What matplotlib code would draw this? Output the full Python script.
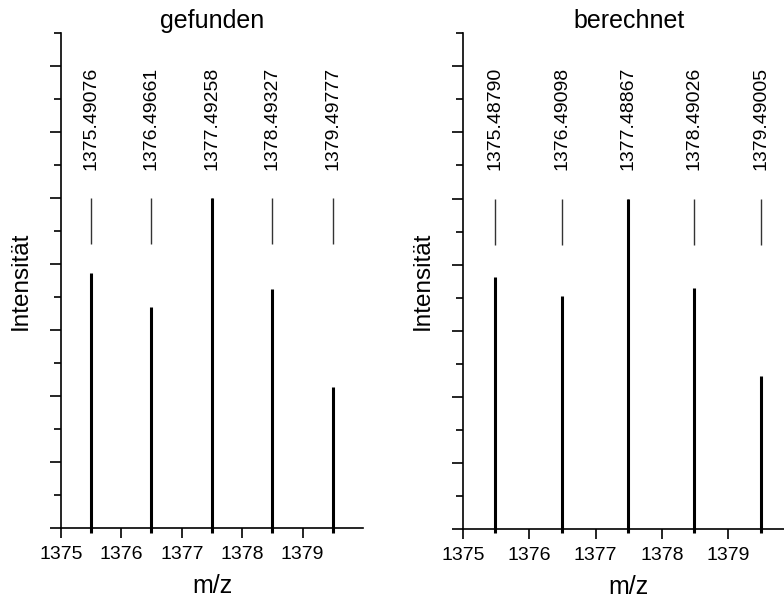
import matplotlib
matplotlib.use("Agg")
import matplotlib.pyplot as plt
from matplotlib.ticker import MultipleLocator

plt.rcParams['font.family'] = ['Liberation Sans', 'DejaVu Sans']

# Isotope pattern: measured vs. calculated (relative intensities, %)
found_mz = [1375.49076, 1376.49661, 1377.49258, 1378.49327, 1379.49777]
found_int = [77.3, 67.1, 100.0, 72.4, 42.7]
calc_mz = [1375.48790, 1376.49098, 1377.48867, 1378.49026, 1379.49005]
calc_int = [76.1, 70.5, 100.0, 72.9, 46.3]
mz_ticks = [1375, 1376, 1377, 1378, 1379]
titles = ["gefunden", "berechnet"]

W, H = 784, 602
fig = plt.figure(figsize=(W / 100, H / 100), dpi=100)
ax1 = fig.add_axes([61 / W, 74 / H, 302 / W, 495 / H])
ax2 = fig.add_axes([463 / W, 73.5 / H, 331.5 / W, 495 / H])


def draw_panel(ax, mz, inten, title):
    # marker ticks under the peak labels
    ax.vlines(mz, 86, 100, colors="#333333", linewidth=1.0)
    # centroid sticks
    ax.vlines(mz, -1.5, inten, colors="black", linewidth=2.2, clip_on=False,
              zorder=3)
    for m in mz:
        ax.text(m, 108.5, f"{m:.5f}", rotation=90, ha="center", va="bottom",
                fontsize=14)

    ax.set_xlim(1375, 1380)
    ax.set_ylim(0, 150)
    ax.set_xticks(mz_ticks)
    ax.set_xticklabels([str(t) for t in mz_ticks])
    ax.yaxis.set_major_locator(MultipleLocator(20))
    ax.yaxis.set_minor_locator(MultipleLocator(10))

    for side in ("top", "right"):
        ax.spines[side].set_visible(False)
    for side in ("left", "bottom"):
        ax.spines[side].set_linewidth(1.2)

    ax.tick_params(axis="y", which="major", length=8, width=1.2, labelleft=False)
    ax.tick_params(axis="y", which="minor", length=5, width=1.2)
    ax.tick_params(axis="x", which="major", length=7, width=1.2,
                   labelsize=14, pad=6)

    ax.set_title(title, fontsize=18, pad=3)
    ax.set_ylabel("Intensität", fontsize=17.5, labelpad=13)
    ax.set_xlabel("m/z", fontsize=18, labelpad=8)


draw_panel(ax1, found_mz, found_int, titles[0])
draw_panel(ax2, calc_mz, calc_int, titles[1])

fig.savefig("out.png", dpi=100)
